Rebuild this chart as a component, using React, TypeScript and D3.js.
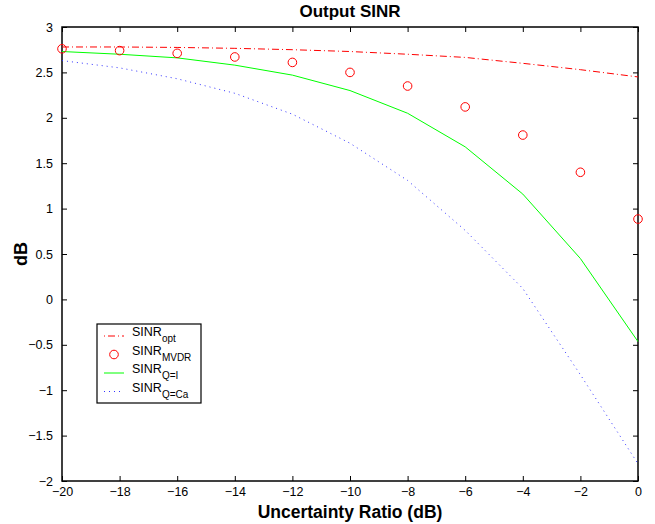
import React, { useRef, useEffect } from 'react';
import * as d3 from 'd3';

// uncertainty ratio in dB
const ratio = [-20, -18, -16, -14, -12, -10, -8, -6, -4, -2, 0];
const sinrOpt = [2.78, 2.78, 2.775, 2.765, 2.75, 2.73, 2.70, 2.665, 2.60, 2.53, 2.45];
const sinrMvdr = [2.76, 2.74, 2.71, 2.67, 2.61, 2.50, 2.35, 2.12, 1.81, 1.40, 0.885];
const sinrQI = [2.73, 2.70, 2.66, 2.58, 2.47, 2.30, 2.05, 1.68, 1.16, 0.45, -0.465];
const sinrQCa = [2.63, 2.55, 2.43, 2.27, 2.04, 1.72, 1.31, 0.76, 0.12, -0.83, -1.81];

const xTicks = [-20, -18, -16, -14, -12, -10, -8, -6, -4, -2, 0];
const yTicks = [-2, -1.5, -1, -0.5, 0, 0.5, 1, 1.5, 2, 2.5, 3];

const legendItems = [
    { sub: 'opt', kind: 'dashdot' },
    { sub: 'MVDR', kind: 'circle' },
    { sub: 'Q=I', kind: 'solid' },
    { sub: 'Q=Ca', kind: 'dotted' }
];

const fmt = (v: number) => String(v).replace('-', '\u2212');

const Chart = () => {
    const ref = useRef<SVGSVGElement>(null);

    useEffect(() => {
        const root = d3.select(ref.current);
        root.selectAll('*').remove();

        const margin = { top: 27, right: 17, bottom: 43, left: 62 };
        const W = 655, H = 524;
        const width = W - margin.left - margin.right;
        const height = H - margin.top - margin.bottom;
        const font = 'Liberation Sans, Arial, Helvetica, sans-serif';

        const svg = root.append('g')
            .attr('transform', 'translate(' + margin.left + ',' + margin.top + ')');

        const x = d3.scaleLinear().domain([-20, 0]).range([0, width]);
        const y = d3.scaleLinear().domain([-2, 3]).range([height, 0]);

        // box
        svg.append('rect')
            .attr('width', width).attr('height', height)
            .attr('fill', 'none').attr('stroke', '#000').attr('stroke-width', 1.5);

        // axes with inward ticks on all sides
        const tickLen = 5;
        const axB = d3.axisBottom(x).tickValues(xTicks).tickSize(-tickLen).tickPadding(tickLen + 1).tickFormat(d => fmt(+d));
        const axT = d3.axisTop(x).tickValues(xTicks).tickSize(-tickLen).tickFormat(() => '');
        const axL = d3.axisLeft(y).tickValues(yTicks).tickSize(-tickLen).tickPadding(tickLen + 4).tickFormat(d => fmt(+d));
        const axR = d3.axisRight(y).tickValues(yTicks).tickSize(-tickLen).tickFormat(() => '');

        const styleAxis = (g: any) => {
            g.select('.domain').remove();
            g.selectAll('line').attr('stroke', '#000').attr('stroke-width', 1);
            g.selectAll('text').attr('fill', '#000').style('font-family', font).style('font-size', '12.5px');
        };
        svg.append('g').attr('transform', 'translate(0,' + height + ')').call(axB).call(styleAxis);
        svg.append('g').call(axT).call(styleAxis);
        svg.append('g').call(axL).call(styleAxis);
        svg.append('g').attr('transform', 'translate(' + width + ',0)').call(axR).call(styleAxis);

        const line = d3.line<number>()
            .x((d, i) => x(ratio[i]))
            .y(d => y(d));

        svg.append('path').datum(sinrQCa)
            .attr('fill', 'none').attr('stroke', '#3333ff').attr('stroke-width', 1)
            .attr('stroke-dasharray', '1,4').attr('d', line);
        svg.append('path').datum(sinrQI)
            .attr('fill', 'none').attr('stroke', '#00ff00').attr('stroke-width', 1)
            .attr('d', line);
        svg.append('path').datum(sinrOpt)
            .attr('fill', 'none').attr('stroke', '#ff0000').attr('stroke-width', 1)
            .attr('stroke-dasharray', '7,3,1,3').attr('d', line);
        svg.selectAll('.mvdr').data(sinrMvdr).enter().append('circle')
            .attr('class', 'mvdr')
            .attr('cx', (d, i) => x(ratio[i])).attr('cy', d => y(d))
            .attr('r', 4.3)
            .attr('fill', 'none').attr('stroke', '#ff0000').attr('stroke-width', 1);

        // legend
        const lg = root.append('g').attr('transform', 'translate(97,324)');
        lg.append('rect').attr('width', 104).attr('height', 79)
            .attr('fill', '#fff').attr('stroke', '#000').attr('stroke-width', 1.2);
        legendItems.forEach((it, i) => {
            const cy = 12 + i * 18.5;
            const sx0 = 7, sx1 = 27;
            if (it.kind === 'circle') {
                lg.append('circle').attr('cx', (sx0 + sx1) / 2).attr('cy', cy).attr('r', 4.3)
                    .attr('fill', 'none').attr('stroke', '#ff0000').attr('stroke-width', 1);
            } else {
                const p = lg.append('line').attr('x1', sx0).attr('x2', sx1).attr('y1', cy).attr('y2', cy)
                    .attr('stroke-width', 1);
                if (it.kind === 'dashdot') p.attr('stroke', '#ff0000').attr('stroke-dasharray', '1,3,7,3');
                if (it.kind === 'solid') p.attr('stroke', '#00ff00');
                if (it.kind === 'dotted') p.attr('stroke', '#3333ff').attr('stroke-dasharray', '1,4');
            }
            const t = lg.append('text').attr('x', 35).attr('y', cy)
                .style('font-family', font).style('font-size', '12.5px').attr('fill', '#000');
            t.append('tspan').text('SINR');
            t.append('tspan').attr('dy', 6).style('font-size', '10px').text(it.sub);
        });

        // title and labels
        root.append('text')
            .attr('x', margin.left + width / 2).attr('y', 17)
            .attr('text-anchor', 'middle')
            .style('font-family', font).style('font-size', '17px').style('font-weight', 'bold')
            .text('Output SINR');
        root.append('text')
            .attr('x', margin.left + width / 2).attr('y', 518)
            .attr('text-anchor', 'middle')
            .style('font-family', font).style('font-size', '17.5px').style('font-weight', 'bold')
            .text('Uncertainty Ratio (dB)');
        root.append('text')
            .attr('transform', 'translate(27,' + (margin.top + height / 2) + ') rotate(-90)')
            .attr('text-anchor', 'middle')
            .style('font-family', font).style('font-size', '18px').style('font-weight', 'bold')
            .text('dB');
    }, []);

    return <svg ref={ref} width={655} height={524} style={{ display: 'block' }}></svg>;
};

export default function App() {
    return (
        <div style={{ position: 'absolute', left: 0, top: 0, background: '#fff' }}>
            <Chart />
        </div>
    );
}
